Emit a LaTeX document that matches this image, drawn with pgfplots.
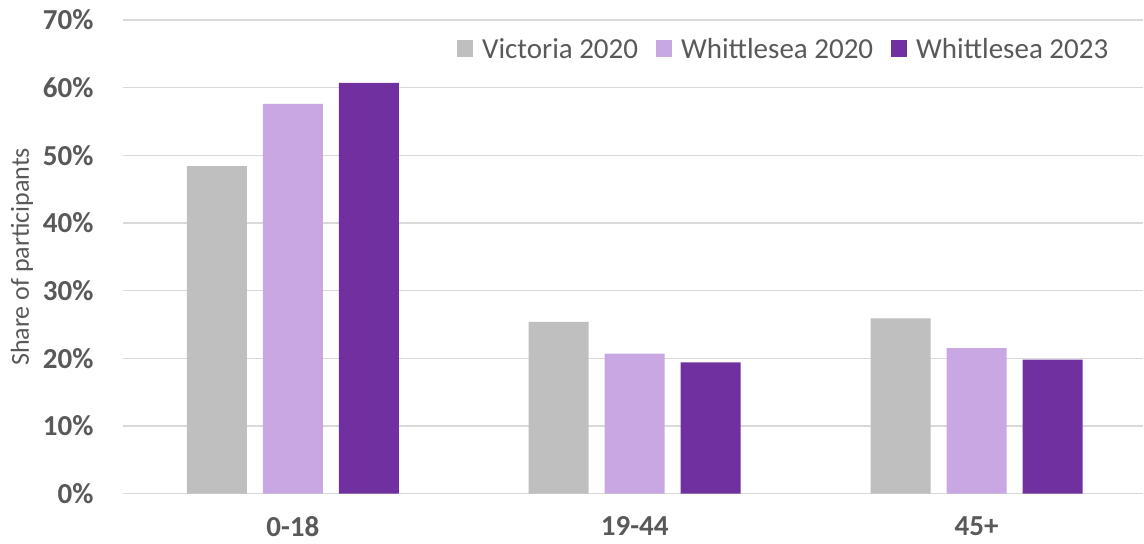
\documentclass[border=0pt]{standalone}
\usepackage{pgfplots}
\pgfplotsset{compat=1.18}
\usepackage{fontspec}
\setmainfont{Carlito}
\usetikzlibrary{calc}
\definecolor{txt}{HTML}{595959}
\definecolor{gridc}{HTML}{D9D9D9}
\definecolor{cA}{HTML}{BFBFBF}
\definecolor{cB}{HTML}{C8A7E3}
\definecolor{cC}{HTML}{7030A0}
\begin{document}
\begin{tikzpicture}
\begin{axis}[
  scale only axis,
  width=1021pt, height=474pt,
  xmin=-0.497, xmax=2.488,
  ymin=0, ymax=70,
  ytick={0,10,...,70},
  xtick={0,1,2},
  xticklabels={0-18,19-44,45+},
  ybar, bar width=0.1755,
  axis line style={draw=none},
  xmajorgrids=false,
  ymajorgrids, grid style={draw=gridc, line width=1.2pt},
  major tick length=0pt,
  xtick style={draw=none}, ytick style={draw=none},
  tick label style={font=\fontsize{29}{30}\selectfont\bfseries, text=txt},
  xticklabel style={yshift=-19pt},
  yticklabel style={xshift=-26pt},
  /pgf/number format/assume math mode=true,
  yticklabel={\pgfmathprintnumber{\tick}\%},
  ylabel={Share of participants},
  ylabel style={font=\fontsize{26}{28}\selectfont, text=txt,
    at={(axis description cs:-0.099,0.5)}, anchor=center},
  legend style={at={(1,1)}, anchor=north east, xshift=-30pt, yshift=-14pt,
    draw=none, fill=none, font=\fontsize{29}{30}\selectfont, text=txt,
    legend columns=3, /tikz/every even column/.append style={column sep=16pt}},
  legend image code/.code={\fill[#1] (0pt,-8.5pt) rectangle (16pt,8.5pt); \path (23pt,0pt);},
  clip=false,
]
\addplot[fill=cA, draw=none, bar shift=-0.2222] coordinates {(0,48.4) (1,25.4) (2,25.9)};
\addplot[fill=cB, draw=none, bar shift=0] coordinates {(0,57.6) (1,20.7) (2,21.5)};
\addplot[fill=cC, draw=none, bar shift=0.2222] coordinates {(0,60.7) (1,19.4) (2,19.8)};
\legend{Victoria 2020, Whittlesea 2020, Whittlesea 2023}
\end{axis}
\useasboundingbox ($(current axis.south west)+(-123pt,-50pt)$) rectangle ($(current axis.north east)+(0pt,20pt)$);
\end{tikzpicture}
\end{document}
